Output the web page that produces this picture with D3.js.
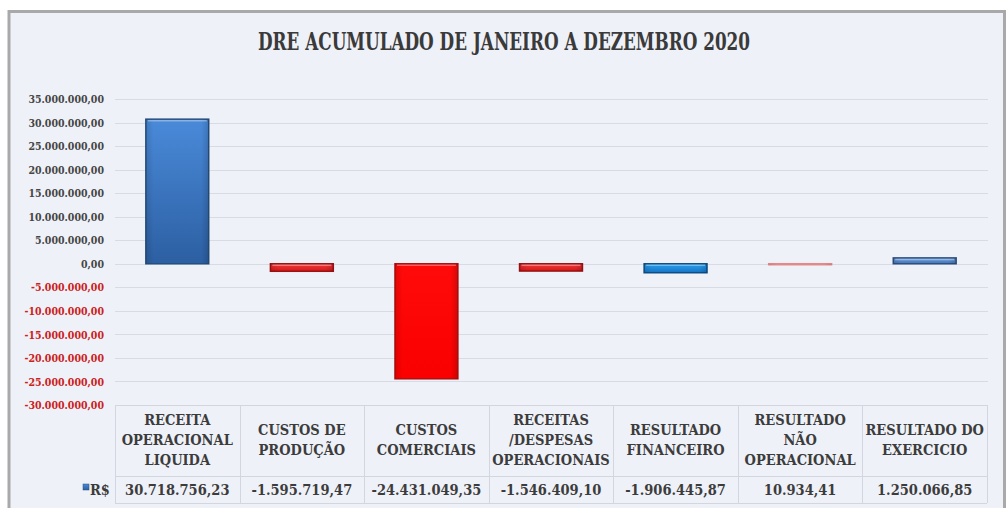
<!DOCTYPE html>
<html><head><meta charset="utf-8">
<script src="https://cdn.jsdelivr.net/npm/d3@7"></script>
<style>
html,body{margin:0;padding:0;background:#fff;}
svg{display:block;}
text{font-family:"DejaVu Serif",serif;font-weight:bold;font-stretch:condensed;}
</style></head>
<body><svg id="c" width="1007" height="508"></svg>
<script>
const title = "DRE ACUMULADO DE JANEIRO A DEZEMBRO 2020";
const categories = ["RECEITA\nOPERACIONAL\nLIQUIDA","CUSTOS DE\nPRODUÇÃO","CUSTOS\nCOMERCIAIS","RECEITAS\n/DESPESAS\nOPERACIONAIS","RESULTADO\nFINANCEIRO","RESULTADO\nNÃO\nOPERACIONAL","RESULTADO DO\nEXERCICIO"];
const values = [30718756.23, -1595719.47, -24431049.35, -1546409.10, -1906445.87, 10934.41, 1250066.85];
const seriesName = "R$";
const yTicks = [35000000,30000000,25000000,20000000,15000000,10000000,5000000,0,-5000000,-10000000,-15000000,-20000000,-25000000,-30000000];
const barStyles = [
  {top:"#4a8ad9", bot:"#2c5fa2", stroke:"#27507f"},
  {top:"#f03a3a", bot:"#d41818", stroke:"#9a1212"},
  {top:"#ff0a0a", bot:"#fa0000", stroke:"#b01010"},
  {top:"#f03a3a", bot:"#d41818", stroke:"#9a1212"},
  {top:"#2aa0f0", bot:"#1674c2", stroke:"#0f4d86"},
  {top:"#f2a8a8", bot:"#e79090", stroke:"#e08a8a"},
  {top:"#6b9ede", bot:"#4373b4", stroke:"#2d4f80"}
];

const loc = d3.formatLocale({decimal:",", thousands:".", grouping:[3], currency:["R$ ",""], minus:"-"});
const fmt = loc.format(",.2f");

const svg = d3.select("#c");
const defs = svg.append("defs");
barStyles.forEach((s,i)=>{
  const g = defs.append("linearGradient").attr("id","g"+i).attr("x1",0).attr("y1",0).attr("x2",0).attr("y2",1);
  g.append("stop").attr("offset","0%").attr("stop-color",s.top);
  g.append("stop").attr("offset","100%").attr("stop-color",s.bot);
  const h = defs.append("linearGradient").attr("id","h"+i).attr("x1",0).attr("y1",0).attr("x2",1).attr("y2",0);
  h.append("stop").attr("offset","0%").attr("stop-color","#000").attr("stop-opacity",0.12);
  h.append("stop").attr("offset","12%").attr("stop-color","#000").attr("stop-opacity",0);
  h.append("stop").attr("offset","88%").attr("stop-color","#000").attr("stop-opacity",0);
  h.append("stop").attr("offset","100%").attr("stop-color","#000").attr("stop-opacity",0.15);
});

// frame
svg.append("rect").attr("x",9).attr("y",11.5).attr("width",995.5).attr("height",520)
  .attr("fill","#eff1f8").attr("stroke","#a9a9a9").attr("stroke-width",3);

const x0 = 115, x1 = 987;
const x = d3.scaleBand().domain(d3.range(categories.length)).range([x0,x1]).paddingInner(0.495).paddingOuter(0.2475);
const xCol = d3.scaleBand().domain(d3.range(categories.length)).range([x0,x1]);
const y = d3.scaleLinear().domain([-30000000,35000000]).range([405,99]);

// title
svg.append("text").attr("x",504).attr("y",50).attr("text-anchor","middle")
  .attr("font-size",24).attr("fill","#3a3a3a").style("font-stretch","normal")
  .attr("textLength",492).attr("lengthAdjust","spacingAndGlyphs").text(title);

// grid
svg.append("g").selectAll("line").data(yTicks).join("line")
  .attr("x1",x0).attr("x2",988).attr("y1",d=>Math.round(y(d))+0.5).attr("y2",d=>Math.round(y(d))+0.5)
  .attr("stroke","#d8dbe3").attr("stroke-width",1);

// y axis
const yAxis = svg.append("g").attr("transform","translate(104,0)")
  .call(d3.axisLeft(y).tickValues(yTicks).tickSize(0).tickPadding(0).tickFormat(fmt));
yAxis.select(".domain").remove();
yAxis.selectAll("text").attr("font-size",10.5).attr("font-family",null)
  .attr("fill",d=>d<0?"#cc2020":"#454545").attr("dy","0.35em");

// bars
const bars = svg.append("g");
values.forEach((v,i)=>{
  const yt = y(Math.max(0,v)), yb = y(Math.min(0,v));
  const h = Math.max(yb-yt, 1);
  bars.append("rect").attr("x",x(i)).attr("y",yt).attr("width",x.bandwidth()).attr("height",h)
    .attr("fill","url(#g"+i+")").attr("stroke",barStyles[i].stroke).attr("stroke-width",1.5);
  bars.append("rect").attr("x",x(i)).attr("y",yt).attr("width",x.bandwidth()).attr("height",h)
    .attr("fill","url(#h"+i+")").attr("pointer-events","none");
  if (h > 4) bars.append("line").attr("x1",x(i)+2).attr("x2",x(i)+x.bandwidth()-2)
    .attr("y1",yt+1.5).attr("y2",yt+1.5).attr("stroke","#ffffff").attr("stroke-opacity",0.35).attr("stroke-width",1.5);
});

// data table
const tTop = 405, tMid = 476, tBot = 503;
const tg = svg.append("g");
const lc = "#d3d6de";
[tTop,tMid,tBot].forEach(yy=>tg.append("line").attr("x1",x0).attr("x2",x1).attr("y1",yy+0.5).attr("y2",yy+0.5).attr("stroke",lc));
d3.range(categories.length+1).forEach(i=>{
  const xx = i<categories.length? xCol(i) : x1;
  tg.append("line").attr("x1",Math.round(xx)+0.5).attr("x2",Math.round(xx)+0.5).attr("y1",tTop).attr("y2",tBot).attr("stroke",lc);
});
categories.forEach((c,i)=>{
  const lines = c.split("\n");
  const cx = xCol(i)+xCol.bandwidth()/2;
  const t = tg.append("text").attr("text-anchor","middle").attr("font-size",14.5).attr("fill","#3c3c3c");
  lines.forEach((l,k)=>{
    t.append("tspan").attr("x",cx).attr("y",440+(k-(lines.length-1)/2)*20).attr("dy","0.36em").text(l);
  });
  tg.append("text").attr("x",cx).attr("y",490).attr("dy","0.36em").attr("text-anchor","middle")
    .attr("font-size",14.5).attr("fill","#3c3c3c").text(fmt(values[i]));
});
// legend key
tg.append("rect").attr("x",83).attr("y",484).attr("width",6).attr("height",6).attr("fill","url(#g0)").attr("stroke","#27507f").attr("stroke-width",0.5);
tg.append("text").attr("x",90).attr("y",490).attr("dy","0.36em").attr("font-size",14.5).attr("fill","#3c3c3c").text(seriesName);
</script></body></html>
